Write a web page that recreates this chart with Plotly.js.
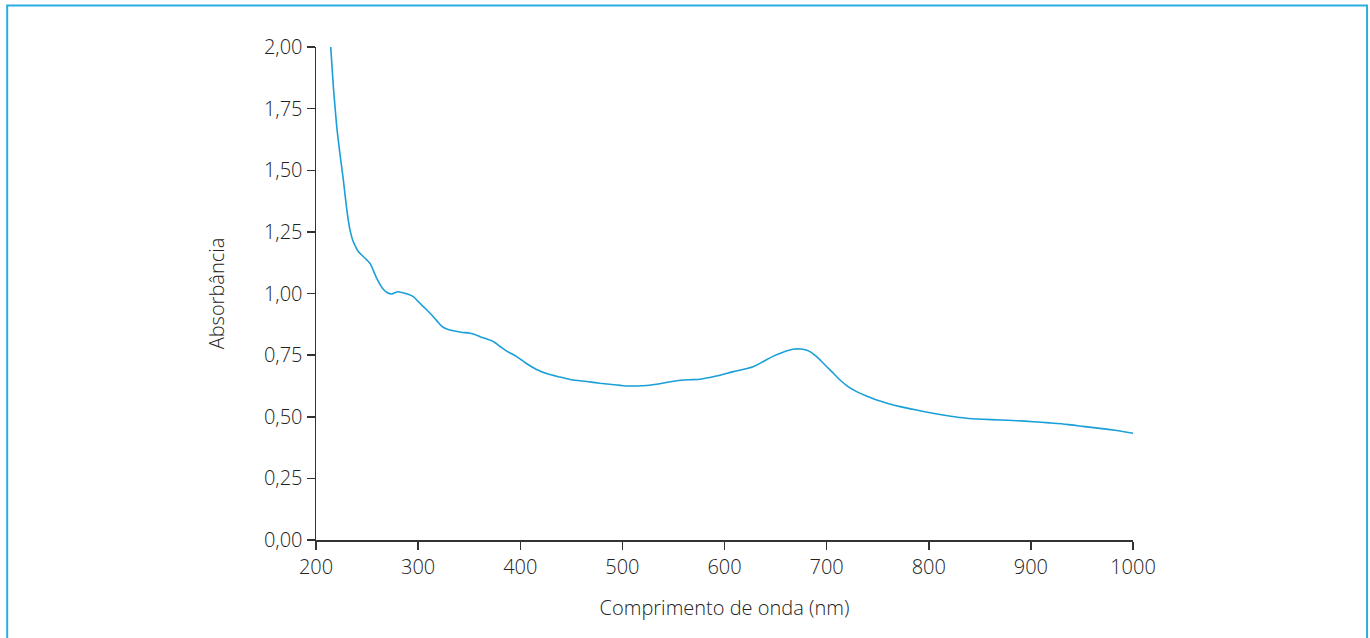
<!DOCTYPE html>
<html><head><meta charset="utf-8">
<script src="https://cdn.plot.ly/plotly-3.0.1.min.js"></script>
<style>html,body{margin:0;padding:0;background:#fff;overflow:hidden}#chart{width:1370px;height:638px}</style>
</head><body><div id="chart"></div>
<script>
const wavelength = [214.4,217,220.3,223.5,226.8,229,231.6,234,236.5,239,241.4,245,248,250.5,252.9,256,259.4,262.5,265.9,270,274,277,280.6,284,287.1,291,295.3,300,305.1,310,314.9,319,323,328,334.4,342,350.8,356,360.6,367,373.6,380,386,396.5,406,416,428,439,450,465,478,492,504,514,523.8,538,553,565,576,592,608.6,628,647.8,656,664,669,673.9,679,683.7,690,696.8,705,713.1,721,729.4,739,749,760,772,788,804,820,837,853,869.8,886,902.4,918,935,951,967.6,984,1000.3];
const absorbance = [2.00,1.839,1.677,1.565,1.460,1.38,1.298,1.245,1.210,1.188,1.170,1.155,1.143,1.133,1.122,1.095,1.062,1.038,1.017,1.003,0.998,1.003,1.007,1.004,1.001,0.996,0.987,0.968,0.947,0.927,0.906,0.886,0.868,0.856,0.849,0.843,0.839,0.833,0.825,0.816,0.805,0.786,0.768,0.744,0.716,0.692,0.672,0.661,0.650,0.643,0.636,0.630,0.625,0.625,0.627,0.635,0.646,0.650,0.652,0.665,0.683,0.703,0.746,0.760,0.771,0.775,0.775,0.772,0.764,0.745,0.717,0.683,0.649,0.622,0.602,0.584,0.568,0.554,0.541,0.527,0.514,0.503,0.494,0.490,0.487,0.484,0.480,0.475,0.469,0.461,0.453,0.444,0.433];
const xTicks = [200,300,400,500,600,700,800,900,1000];
const yTicks = [0,0.25,0.5,0.75,1.0,1.25,1.5,1.75,2.0];
const xTitle = 'Comprimento de onda (nm)';
const yTitle = 'Absorbância';

const fnt = {family:'"Open Sans", Lato, sans-serif', size:20, color:'#222', weight:300};
Plotly.newPlot('chart', [{
  x: wavelength, y: absorbance, type:'scatter', mode:'lines',
  line:{color:'#1a9fd8', width:1.6, shape:'spline', smoothing:0.6}, hoverinfo:'skip'
}], {
  width:1370, height:638,
  margin:{l:316, r:237, t:47, b:98},
  paper_bgcolor:'#fff', plot_bgcolor:'#fff',
  separators:',.',
  showlegend:false,
  font:fnt,
  xaxis:{range:[200,1000], tickvals:xTicks, ticktext:xTicks.map(String), showgrid:false, zeroline:false,
    showline:true, linecolor:'#333', linewidth:1.5, ticks:'outside', ticklen:8, tickwidth:1.5, tickcolor:'#333',
    tickfont:fnt, title:{text:xTitle, font:{...fnt, size:20}, standoff:22}},
  yaxis:{range:[0,2], tickvals:yTicks, tickformat:'.2f', showgrid:false, zeroline:false,
    showline:true, linecolor:'#333', linewidth:1.5, ticks:'outside', ticklen:8, tickwidth:1.5, tickcolor:'#333',
    tickfont:fnt, title:{text:yTitle, font:{...fnt, size:20}, standoff:34}},
  shapes:[{type:'rect', xref:'paper', yref:'paper', x0:-0.378, x1:1.2865, y0:-0.3, y1:1.0843,
    line:{color:'#2aaee2', width:2}, fillcolor:'rgba(0,0,0,0)', layer:'below'}]
}, {staticPlot:true, displayModeBar:false});
</script></body></html>
